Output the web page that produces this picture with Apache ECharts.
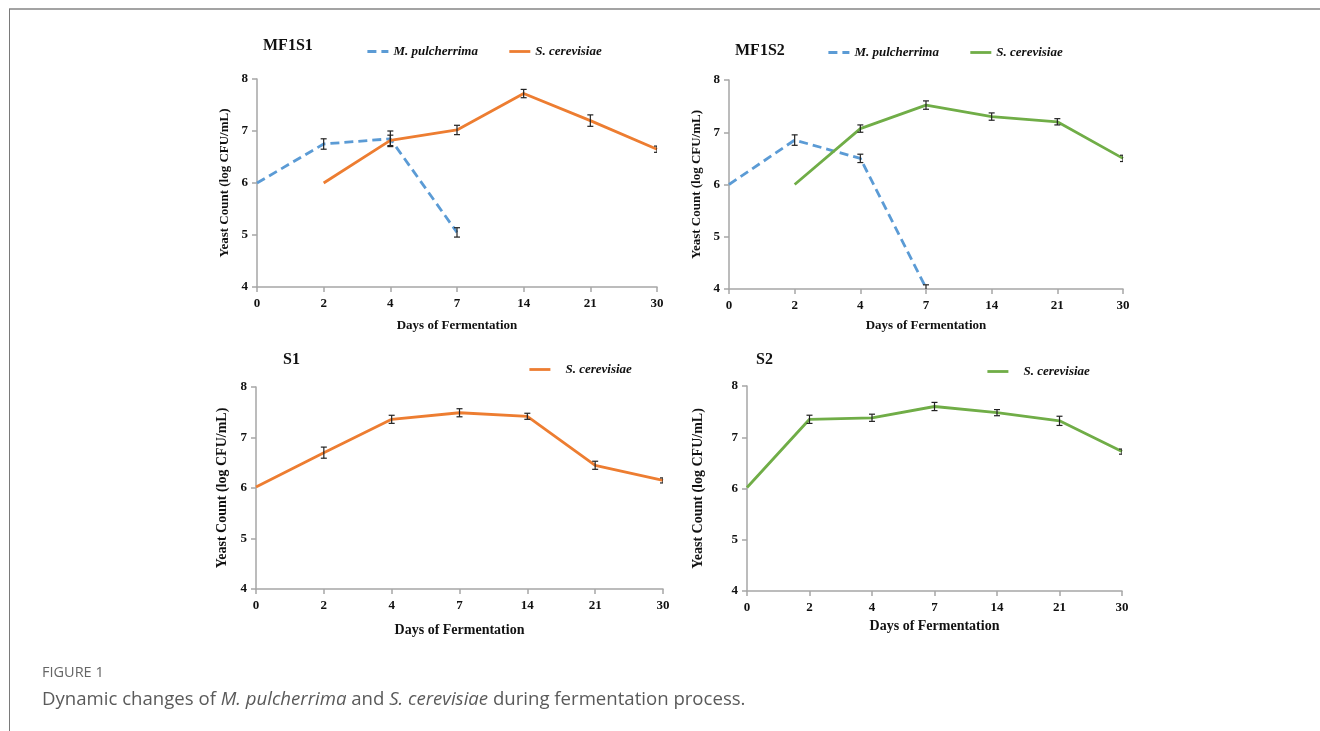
<!DOCTYPE html>
<html>
<head>
<meta charset="utf-8">
<script src="https://cdn.jsdelivr.net/npm/echarts@6/dist/echarts.min.js"></script>
<style>html,body{margin:0;padding:0;background:#fff;}#c{width:1320px;height:731px;}</style>
</head>
<body>
<div id="c"></div>
<script>
// ---- data ----
const days = ['0', '2', '4', '7', '14', '21', '30'];
const yTicks = [4, 5, 6, 7, 8];

const mf1s1_mp = [6.0, 6.75, 6.85, 5.05, null, null, null];
const mf1s1_mp_err = [0, 0.1, 0.15, 0.09, 0, 0, 0];
const mf1s1_sc = [null, 6.0, 6.82, 7.02, 7.72, 7.2, 6.65];
const mf1s1_sc_err = [0, 0, 0.1, 0.09, 0.08, 0.11, 0.06];

const mf1s2_mp = [6.0, 6.85, 6.5, 4.02, null, null, null];
const mf1s2_mp_err = [0, 0.1, 0.08, 0.06, 0, 0, 0];
const mf1s2_sc = [null, 6.0, 7.07, 7.52, 7.3, 7.2, 6.5];
const mf1s2_sc_err = [0, 0, 0.07, 0.08, 0.07, 0.06, 0.06];

const s1_sc = [6.02, 6.7, 7.36, 7.49, 7.42, 6.45, 6.15];
const s1_sc_err = [0, 0.11, 0.08, 0.08, 0.06, 0.08, 0.05];

const s2_sc = [6.02, 7.35, 7.38, 7.6, 7.48, 7.32, 6.72];
const s2_sc_err = [0, 0.08, 0.07, 0.08, 0.06, 0.09, 0.05];

// ---- styling ----
const ORANGE = '#ED7D31', BLUE = '#5B9BD5', GREEN = '#70AD47';
const SERIF = '"Liberation Serif", "Times New Roman", serif';
const AXC = '#a6a6a6';

const panels = [
  {title: 'MF1S1', grid: {left: 257, top: 79, width: 400, height: 208}, titlePos: {left: 263, top: 38}, fs: 13,
   legend: {left: 366, top: 45}, yGap: 26, xGap: 32},
  {title: 'MF1S2', grid: {left: 729, top: 80, width: 394, height: 209}, titlePos: {left: 735, top: 43}, fs: 13,
   legend: {left: 827, top: 46}, yGap: 26, xGap: 30},
  {title: 'S1', grid: {left: 256, top: 387, width: 407, height: 202}, titlePos: {left: 283, top: 352}, fs: 14,
   legend: {left: 528, top: 363}, yGap: 27, xGap: 34},
  {title: 'S2', grid: {left: 747, top: 386, width: 375, height: 205}, titlePos: {left: 756, top: 352}, fs: 14,
   legend: {left: 986, top: 365}, yGap: 42, xGap: 28}
];

const seriesDefs = [
  {p: 0, name: 'MF1S1|M. pulcherrima', data: mf1s1_mp, err: mf1s1_mp_err, color: BLUE, dash: [9, 5]},
  {p: 0, name: 'MF1S1|S. cerevisiae', data: mf1s1_sc, err: mf1s1_sc_err, color: ORANGE},
  {p: 1, name: 'MF1S2|M. pulcherrima', data: mf1s2_mp, err: mf1s2_mp_err, color: BLUE, dash: [9, 5]},
  {p: 1, name: 'MF1S2|S. cerevisiae', data: mf1s2_sc, err: mf1s2_sc_err, color: GREEN},
  {p: 2, name: 'S1|S. cerevisiae', data: s1_sc, err: s1_sc_err, color: ORANGE},
  {p: 3, name: 'S2|S. cerevisiae', data: s2_sc, err: s2_sc_err, color: GREEN}
];

const grids = [], xAxes = [], yAxes = [], titles = [], legends = [], series = [];
panels.forEach((pn, i) => {
  grids.push(Object.assign({containLabel: false}, pn.grid));
  titles.push({text: pn.title, left: pn.titlePos.left, top: pn.titlePos.top, padding: 0,
    textStyle: {fontFamily: SERIF, fontWeight: 'bold', fontSize: 16, color: '#111'}});
  xAxes.push({type: 'category', gridIndex: i, data: days, boundaryGap: false,
    name: 'Days of Fermentation', nameLocation: 'middle', nameGap: pn.xGap,
    nameTextStyle: {fontFamily: SERIF, fontWeight: 'bold', fontSize: pn.fs, color: '#111'},
    axisLine: {lineStyle: {color: AXC, width: 1.5}},
    axisTick: {length: 5, lineStyle: {color: AXC, width: 1.5}},
    axisLabel: {margin: 10, fontFamily: SERIF, fontWeight: 'bold', fontSize: 13, color: '#111'},
    splitLine: {show: false}});
  yAxes.push({type: 'value', gridIndex: i, min: yTicks[0], max: yTicks[yTicks.length - 1], interval: 1,
    name: 'Yeast Count (log CFU/mL)', nameLocation: 'middle', nameGap: pn.yGap,
    nameTextStyle: {fontFamily: SERIF, fontWeight: 'bold', fontSize: pn.fs, color: '#111'},
    axisLine: {show: true, lineStyle: {color: AXC, width: 1.5}},
    axisTick: {show: true, length: 5, lineStyle: {color: AXC, width: 1.5}},
    axisLabel: {margin: 9, fontFamily: SERIF, fontWeight: 'bold', fontSize: 13, color: '#111'},
    splitLine: {show: false}});
});

const legendNames = [[], [], [], []];
seriesDefs.forEach(sd => {
  legendNames[sd.p].push(sd.name);
  series.push({type: 'line', name: sd.name, xAxisIndex: sd.p, yAxisIndex: sd.p, data: sd.data,
    symbol: 'none', showSymbol: false, connectNulls: false, z: 2,
    lineStyle: {color: sd.color, width: 2.8, type: sd.dash || 'solid'},
    itemStyle: {color: sd.color}});
  const ed = [];
  sd.data.forEach((v, k) => { if (v != null && sd.err[k] > 0) ed.push([k, v - sd.err[k], v + sd.err[k]]); });
  series.push({type: 'custom', name: sd.name + ' err', xAxisIndex: sd.p, yAxisIndex: sd.p, data: ed, z: 5,
    encode: {x: 0, y: [1, 2]}, clip: true, silent: true,
    renderItem: function (params, api) {
      const lo = api.coord([api.value(0), api.value(1)]);
      const hi = api.coord([api.value(0), api.value(2)]);
      const w = 3;
      const st = {stroke: '#222', lineWidth: 1.2};
      return {type: 'group', children: [
        {type: 'line', shape: {x1: lo[0], y1: lo[1], x2: hi[0], y2: hi[1]}, style: st},
        {type: 'line', shape: {x1: lo[0] - w, y1: lo[1], x2: lo[0] + w, y2: lo[1]}, style: st},
        {type: 'line', shape: {x1: hi[0] - w, y1: hi[1], x2: hi[0] + w, y2: hi[1]}, style: st}
      ]};
    }});
});

panels.forEach((pn, i) => {
  legends.push({data: legendNames[i], left: pn.legend.left, top: pn.legend.top, orient: 'horizontal',
    itemWidth: 21, itemHeight: 14, itemGap: 30, selectedMode: false, padding: 0,
    itemStyle: {opacity: 0},
    lineStyle: {width: 2.8},
    formatter: n => n.split('|')[1],
    textStyle: {fontFamily: SERIF, fontStyle: 'italic', fontWeight: 'bold', fontSize: 13, color: '#111',
      padding: i >= 2 ? [0, 0, 0, 10] : 0}});
});

const chart = echarts.init(document.getElementById('c'), null, {renderer: 'canvas'});
chart.setOption({
  animation: false,
  backgroundColor: '#fff',
  title: titles,
  legend: legends,
  grid: grids,
  xAxis: xAxes,
  yAxis: yAxes,
  series: series,
  graphic: [
    {type: 'line', shape: {x1: 9, y1: 9, x2: 1320, y2: 9}, style: {stroke: '#a3a3a3', lineWidth: 2}, silent: true},
    {type: 'line', shape: {x1: 9.5, y1: 9, x2: 9.5, y2: 731}, style: {stroke: '#7a7a7a', lineWidth: 1}, silent: true},
    {type: 'text', left: 42, top: 665, silent: true,
      style: {text: 'FIGURE 1', fontFamily: '"Open Sans", sans-serif', fontSize: 14.5, fill: '#666'}},
    {type: 'text', left: 42, top: 690, silent: true,
      style: {text: '{n|Dynamic changes of }{i|M. pulcherrima}{n| and }{i|S. cerevisiae}{n| during fermentation process.}',
        rich: {
          n: {fontFamily: '"Open Sans", sans-serif', fontSize: 18.6, fill: '#5a5a5a', color: '#5a5a5a'},
          i: {fontFamily: '"Open Sans", sans-serif', fontSize: 18.6, fontStyle: 'italic', fill: '#5a5a5a', color: '#5a5a5a'}
        }}}
  ]
});
</script>
</body>
</html>
